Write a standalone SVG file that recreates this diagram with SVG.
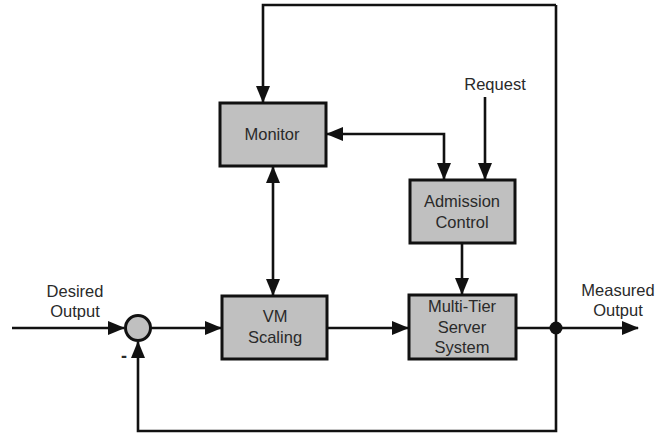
<svg xmlns="http://www.w3.org/2000/svg" width="671" height="434" viewBox="0 0 671 434">
  <style>
    .box { fill: #c0c0c0; stroke: #111; stroke-width: 3; }
    .wire { fill: none; stroke: #111; stroke-width: 2.6; }
    .lbl { font-family: "Liberation Sans", Arial, sans-serif; font-size: 16.5px; fill: #2a2a2a; text-anchor: middle; }
  </style>
  <defs>
    <marker id="arr" markerUnits="userSpaceOnUse" markerWidth="18" markerHeight="14" refX="16" refY="7" orient="auto-start-reverse">
      <path d="M0,0 L17,7 L0,14 Z" fill="#111"/>
    </marker>
  </defs>
  <rect width="671" height="434" fill="#fff"/>

  <g id="connectors">
    <!-- input into the summing junction -->
    <path class="wire" d="M12,328 H124" marker-end="url(#arr)"/>
    <!-- summing junction to VM Scaling -->
    <path class="wire" d="M151,328 H221" marker-end="url(#arr)"/>
    <!-- VM Scaling to server system -->
    <path class="wire" d="M327,328 H408" marker-end="url(#arr)"/>
    <!-- output line -->
    <path class="wire" d="M516,328 H638" marker-end="url(#arr)"/>
    <!-- negative feedback loop -->
    <path class="wire" d="M556,5 V431 H138 V342" marker-end="url(#arr)"/>
    <!-- feedback to Monitor -->
    <path class="wire" d="M556,5 H263 V102" marker-end="url(#arr)"/>
    <!-- Monitor <-> Admission Control -->
    <path class="wire" d="M327,134 H444 V179" marker-start="url(#arr)" marker-end="url(#arr)"/>
    <!-- Request into Admission Control -->
    <path class="wire" d="M485,97 V179" marker-end="url(#arr)"/>
    <!-- Monitor <-> VM Scaling -->
    <path class="wire" d="M273,167 V295" marker-start="url(#arr)" marker-end="url(#arr)"/>
    <!-- Admission Control to server system -->
    <path class="wire" d="M462,244 V294" marker-end="url(#arr)"/>
    <!-- branch point -->
    <circle cx="556" cy="328" r="6.5" fill="#111"/>
  </g>

  <g id="sum">
    <circle cx="138" cy="328" r="12.5" fill="#c0c0c0" stroke="#111" stroke-width="3"/>
    <text class="lbl" x="124" y="362" style="font-size:18px;font-weight:bold">-</text>
  </g>

  <g id="monitor">
    <rect class="box" x="220" y="103" width="106" height="63"/>
    <text class="lbl" x="272" y="140">Monitor</text>
  </g>

  <g id="admission">
    <rect class="box" x="410" y="180" width="105" height="63"/>
    <text class="lbl" x="462" y="207">Admission</text>
    <text class="lbl" x="462" y="228">Control</text>
  </g>

  <g id="vmscaling">
    <rect class="box" x="222" y="296" width="105" height="63"/>
    <text class="lbl" x="275" y="322">VM</text>
    <text class="lbl" x="275" y="343">Scaling</text>
  </g>

  <g id="server">
    <rect class="box" x="409" y="295" width="107" height="64"/>
    <text class="lbl" x="462" y="312">Multi-Tier</text>
    <text class="lbl" x="462" y="333">Server</text>
    <text class="lbl" x="462" y="353">System</text>
  </g>

  <g id="labels">
    <text class="lbl" x="75" y="297">Desired</text>
    <text class="lbl" x="75" y="317">Output</text>
    <text class="lbl" x="495" y="90">Request</text>
    <text class="lbl" x="618" y="296">Measured</text>
    <text class="lbl" x="618" y="316">Output</text>
  </g>
</svg>
